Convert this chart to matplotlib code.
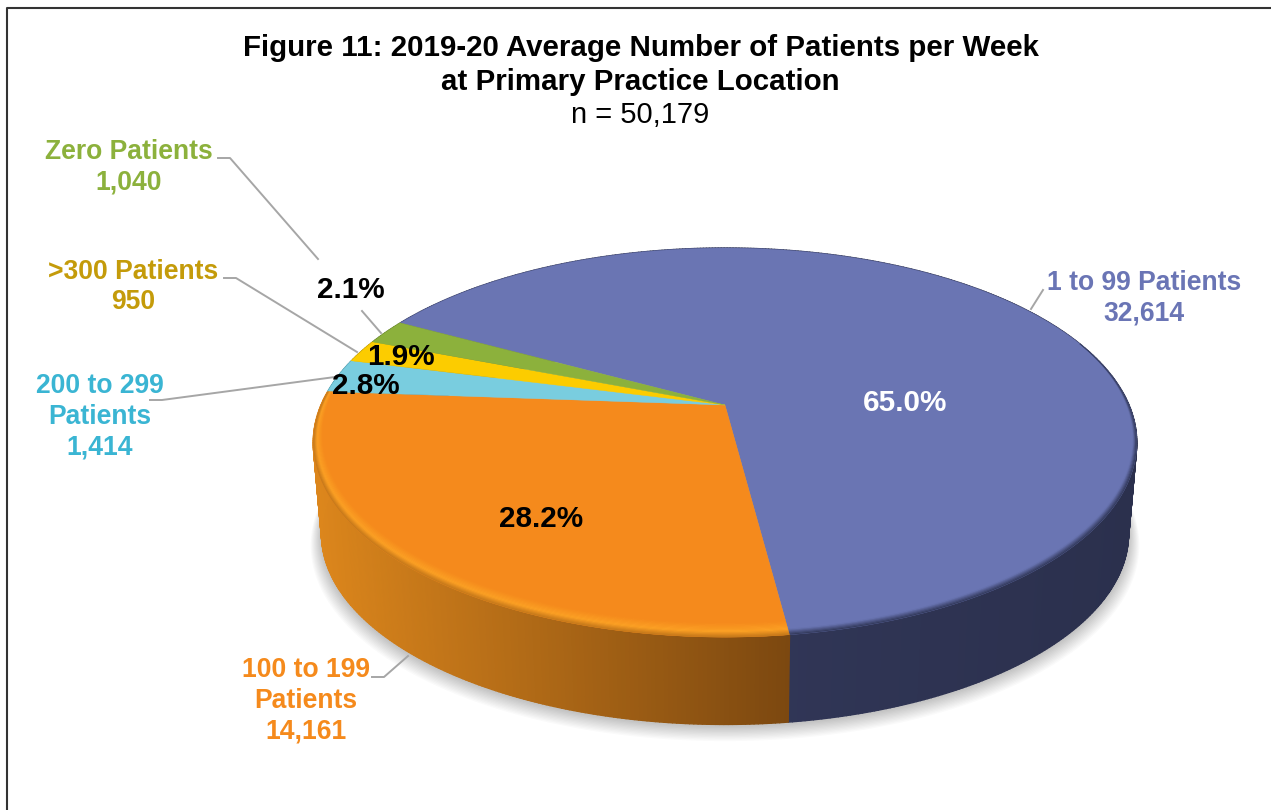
#!/usr/bin/env python3
import numpy as np
from matplotlib import pyplot as plt
from matplotlib.collections import PolyCollection
from matplotlib.colors import to_rgb

plt.rcParams['font.family'] = ['Liberation Sans', 'DejaVu Sans']

names = ['1 to 99 Patients', '100 to 199\nPatients', '200 to 299\nPatients', '>300 Patients', 'Zero Patients']
patients = [32614, 14161, 1414, 950, 1040]
top_colors = ['#6a75b3', '#f58a1c', '#79cddf', '#fccc00', '#8cb13c']
label_colors = ['#6a75b5', '#f58a1c', '#3ab5d3', '#c49b0a', '#8cb13c']
side_left = ['#363c60', '#dc861c', '#4e98a8', '#b89500', '#64802c']
side_right = ['#2b304d', '#7c4810', '#4e98a8', '#b89500', '#64802c']
rim_colors = ['#6a75b3', '#fda225', '#79cddf', '#fccc00', '#8cb13c']
rim_outer = ['#2f3555', '#c2761a', '#79cddf', '#fccc00', '#8cb13c']
title_lines = ['Figure 11: 2019-20 Average Number of Patients per Week', 'at Primary Practice Location']
subtitle = 'n = 50,179'

# projection of the tilted disc, in pixels
CX, CY = 725, 405
A, B, K = 404, 187.3, 0.193
DEPTH, SHRINK = 92, 0.98
START = 151.4


def project(theta, r=1.0, scale=1.0, drop=0.0):
    u = r * np.cos(np.radians(theta))
    v = r * np.sin(np.radians(theta))
    w = 1 + K * v
    return np.column_stack([CX + scale * A * u / w, CY + drop - scale * B * v / w])


def mix(c1, c2, t):
    c1 = to_rgb(c1)
    c2 = to_rgb(c2)
    return tuple((1 - t) * a + t * b for a, b in zip(c1, c2))


fig = plt.figure(figsize=(12.71, 8.10), dpi=100)
ax = fig.add_axes([0, 0, 1, 1])
ax.set_xlim(0, 1271)
ax.set_ylim(810, 0)
ax.axis('off')

# chart frame
ax.plot([6.5, 6.5, 1271], [810, 7.5, 7.5], color='#333333', lw=1.5)

total = sum(patients)
edges = START - np.cumsum([0] + patients) / total * 360

# soft shadow under the pie
all_t = np.linspace(0, 360, 361)
for i in range(12):
    ax.fill(*project(all_t, 1.0, SHRINK + 0.0022 * (12 - i), DEPTH + 1 + 0.8 * (12 - i)).T,
            color='black', alpha=0.018, lw=0, zorder=1)

# side wall, shaded piece by piece
for k in range(len(patients)):
    t = np.linspace(edges[k], edges[k + 1], max(3, int(abs(edges[k + 1] - edges[k]) * 2)))
    outer = project(t)
    lower = project(t, 1.0, SHRINK, DEPTH)
    polys = []
    cols = []
    x0, x1 = outer[:, 0].min(), outer[:, 0].max()
    for j in range(len(t) - 1):
        polys.append([outer[j], outer[j + 1], lower[j + 1], lower[j]])
        f = (outer[j, 0] - x0) / max(x1 - x0, 1)
        cols.append(mix(side_left[k], side_right[k], f))
    ax.add_collection(PolyCollection(polys, facecolors=cols, edgecolors=cols, linewidths=1.0, zorder=2))

# top surface
for k in range(len(patients)):
    t = np.linspace(edges[k], edges[k + 1], 300)
    ax.fill(*np.vstack([[[CX, CY]], project(t)]).T, color=top_colors[k], lw=0.3, zorder=3)

# bevel along the rim, blended in thin bands; it fades out towards the back
n_bands = 12
for k in range(2):
    t = np.linspace(edges[k], edges[k + 1], max(3, int(abs(edges[k + 1] - edges[k]) * 2)))
    v = np.sin(np.radians(t))
    t = t[v < 0.35]
    v = v[v < 0.35]
    width = 0.002 + 0.014 * np.clip(0.35 - v, 0, 0.35) / 0.35 + 0.034 * np.clip(-v, 0, 1)
    for s in range(n_bands):
        f0 = s / n_bands
        f1 = (s + 1) / n_bands
        mid = (f0 + f1) / 2
        if mid < 0.6:
            col = mix(top_colors[k], rim_colors[k], mid / 0.6)
        else:
            col = mix(rim_colors[k], rim_outer[k], (mid - 0.6) / 0.4)
        inner_pts = project(t, 1 - width * (1 - f0))
        outer_pts = project(t, 1 - width * (1 - f1))
        ax.fill(*np.vstack([inner_pts, outer_pts[::-1]]).T, color=col, lw=0.2, zorder=4)

# leader lines
leaders = [
    ([218, 230, 318], [158, 158, 259]),
    ([362, 381], [311, 333]),
    ([224, 236, 357], [278, 278, 352]),
    ([150, 162, 335], [400, 400, 377]),
    ([372, 384, 408], [677, 677, 656]),
    ([1031, 1043], [309, 290]),
]
for xs, ys in leaders:
    ax.plot(xs, ys, color='#a6a6a6', lw=1.4, zorder=5)

# titles
ax.text(640.5, 47.5, title_lines[0], ha='center', va='center', fontsize=21.25, fontweight='bold', zorder=6)
ax.text(640.5, 81.5, title_lines[1], ha='center', va='center', fontsize=21.25, fontweight='bold', zorder=6)
ax.text(640.5, 115, subtitle, ha='center', va='center', fontsize=21.0, zorder=6)

# category labels and counts
label_pos = [(1144, 298), (306, 701), (100, 417), (133, 287), (129, 167)]
for k in range(len(patients)):
    ax.text(label_pos[k][0], label_pos[k][1], f'{names[k]}\n{patients[k]:,}', ha='center', va='center',
            fontsize=19.1, fontweight='bold', color=label_colors[k], linespacing=1.23, zorder=6)

# percentages
pct_pos = [(905, 403), (541, 519), (366, 386), (401, 357), (351, 290)]
pct_colors = ['white', 'black', 'black', 'black', 'black']
for k in range(len(patients)):
    ax.text(pct_pos[k][0], pct_pos[k][1], f'{patients[k] / total * 100:.1f}%', ha='center', va='center',
            fontsize=21.3, fontweight='bold', color=pct_colors[k], zorder=7)

fig.savefig('out.png', dpi=100)
